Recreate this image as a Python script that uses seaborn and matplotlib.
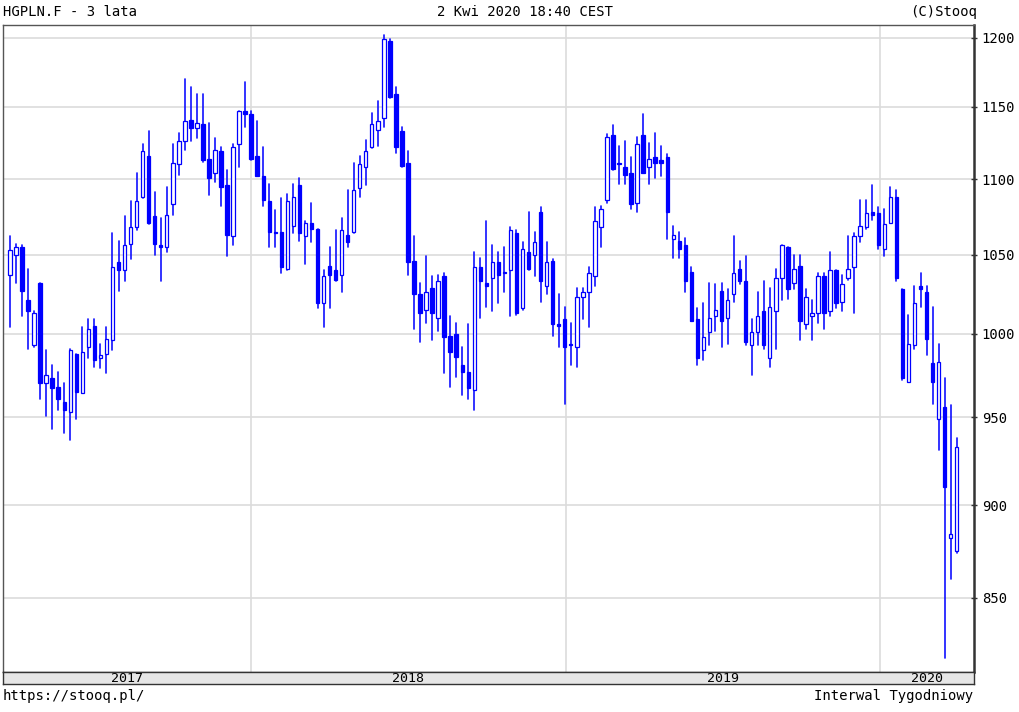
import numpy as np
import pandas as pd
import matplotlib
matplotlib.use("Agg")
import matplotlib.pyplot as plt
import matplotlib.dates as mdates
import matplotlib.ticker as mticker
import seaborn as sns

# ---------------- data (weekly candles, HGPLN.F) ----------------
start_week = "2017-03-27"
opens = [1037, 1050, 1055, 1021, 993, 1032, 970, 973, 968, 959,
         953, 988, 964, 992, 1005, 985, 988, 996, 1045, 1040,
         1057, 1068, 1088, 1116, 1075, 1056, 1055, 1083, 1110, 1126,
         1141, 1135, 1138, 1114, 1104, 1119, 1096, 1062, 1124, 1147,
         1145, 1116, 1102, 1085, 1065, 1065, 1041, 1069, 1096, 1062,
         1071, 1067, 1019, 1043, 1040, 1037, 1063, 1065, 1094, 1108,
         1122, 1134, 1142, 1198, 1159, 1133, 1111, 1046, 1025, 1015,
         1029, 1010, 1036, 999, 1000, 981, 977, 966, 1042, 1032,
         1035, 1045, 1039, 1040, 1064, 1016, 1052, 1050, 1078, 1030,
         1046, 1006, 1009, 994, 992, 1023, 1026, 1036, 1068, 1086,
         1130, 1111, 1108, 1104, 1084, 1130, 1108, 1115, 1113, 1115,
         1060, 1059, 1056, 1039, 1009, 990, 1001, 1011, 1027, 1010,
         1025, 1041, 1033, 993, 1001, 1014, 985, 1014, 1035, 1055,
         1032, 1043, 1006, 1011, 1013, 1036, 1014, 1040, 1020, 1035,
         1042, 1062, 1068, 1078, 1077, 1054, 1071, 1088, 1028, 971,
         993, 1030, 1026, 982, 949, 956, 882, 875]
highs = [1062, 1057, 1056, 1041, 1014, 1032, 990, 981, 977, 970,
         991, 988, 1004, 1009, 1009, 994, 1004, 1064, 1059, 1075,
         1085, 1104, 1124, 1133, 1091, 1074, 1095, 1124, 1132, 1170,
         1164, 1159, 1159, 1139, 1128, 1122, 1106, 1124, 1147, 1168,
         1147, 1140, 1122, 1097, 1079, 1087, 1090, 1097, 1101, 1072,
         1084, 1067, 1040, 1055, 1066, 1074, 1093, 1111, 1116, 1127,
         1146, 1154, 1202, 1199, 1164, 1136, 1119, 1062, 1032, 1049,
         1036, 1037, 1038, 1011, 1007, 992, 1006, 1052, 1048, 1072,
         1056, 1052, 1055, 1068, 1066, 1058, 1078, 1065, 1081, 1058,
         1047, 1025, 1017, 1007, 1029, 1029, 1042, 1081, 1082, 1131,
         1137, 1123, 1126, 1115, 1129, 1145, 1125, 1132, 1123, 1117,
         1069, 1065, 1061, 1042, 1016, 1019, 1032, 1031, 1032, 1028,
         1062, 1046, 1049, 1009, 1026, 1033, 1029, 1041, 1056, 1055,
         1050, 1050, 1028, 1021, 1038, 1038, 1052, 1040, 1037, 1062,
         1064, 1086, 1086, 1096, 1081, 1080, 1095, 1093, 1028, 1012,
         1030, 1038, 1030, 1017, 994, 973, 957, 938]
lows = [1004, 1032, 1011, 991, 992, 961, 951, 943, 954, 941,
        937, 949, 964, 985, 980, 979, 976, 990, 1027, 1033,
        1047, 1066, 1087, 1070, 1050, 1033, 1052, 1076, 1103, 1120,
        1126, 1128, 1112, 1089, 1098, 1082, 1049, 1056, 1108, 1136,
        1113, 1102, 1082, 1055, 1055, 1038, 1040, 1064, 1059, 1044,
        1058, 1016, 1004, 1016, 1033, 1026, 1055, 1064, 1088, 1096,
        1121, 1123, 1136, 1156, 1118, 1108, 1037, 1003, 995, 1007,
        996, 1002, 976, 968, 974, 963, 961, 954, 1010, 1017,
        1014, 1019, 1026, 1011, 1012, 1015, 1040, 1036, 1020, 1025,
        999, 992, 958, 981, 980, 1009, 1004, 1030, 1055, 1084,
        1106, 1097, 1097, 1080, 1078, 1104, 1097, 1101, 1102, 1060,
        1048, 1048, 1026, 1008, 981, 984, 993, 1002, 992, 994,
        1020, 1031, 993, 975, 993, 991, 980, 991, 1021, 1022,
        1028, 996, 1003, 996, 1007, 1003, 1011, 1016, 1014, 1034,
        1013, 1058, 1067, 1073, 1054, 1049, 1071, 1033, 972, 971,
        991, 1017, 987, 958, 931, 819, 860, 874]
closes = [1053, 1055, 1027, 1014, 1013, 970, 975, 967, 961, 954,
          990, 965, 989, 1003, 984, 987, 997, 1042, 1040, 1056,
          1068, 1085, 1119, 1071, 1057, 1055, 1076, 1111, 1126, 1140,
          1135, 1139, 1113, 1101, 1120, 1095, 1063, 1122, 1147, 1145,
          1114, 1102, 1086, 1065, 1064, 1042, 1085, 1088, 1064, 1071,
          1067, 1019, 1036, 1037, 1034, 1066, 1058, 1093, 1110, 1119,
          1138, 1140, 1199, 1157, 1122, 1109, 1045, 1025, 1013, 1026,
          1013, 1033, 998, 989, 986, 977, 967, 1042, 1033, 1030,
          1045, 1037, 1038, 1066, 1013, 1054, 1041, 1058, 1033, 1045,
          1006, 1005, 992, 993, 1023, 1026, 1038, 1072, 1080, 1129,
          1107, 1110, 1103, 1083, 1124, 1104, 1114, 1111, 1111, 1078,
          1063, 1054, 1033, 1008, 985, 998, 1010, 1015, 1008, 1021,
          1038, 1033, 995, 1001, 1011, 993, 1017, 1035, 1056, 1028,
          1041, 1008, 1023, 1013, 1036, 1013, 1040, 1019, 1031, 1041,
          1062, 1069, 1077, 1076, 1056, 1070, 1088, 1035, 973, 994,
          1019, 1028, 997, 971, 983, 910, 884, 933]
y_ticks = [850, 900, 950, 1000, 1050, 1100, 1150, 1200]
years = [2017, 2018, 2019, 2020]

# ---------------- figure ----------------
sns.set_style("white")
plt.rcParams["font.family"] = ["DejaVu Sans Mono", "DejaVu Sans"]

W, H = 1020, 712
fig = plt.figure(figsize=(W / 100, H / 100), dpi=100)
fig.patch.set_facecolor("white")

ax = fig.add_axes([3 / W, (H - 672) / H, 971 / W, (672 - 25) / H])
ax.set_facecolor("white")

n = len(opens)
weeks = pd.date_range(start_week, periods=n, freq="7D")
o = np.array(opens, float)
c = np.array(closes, float)
hi = np.array(highs, float)
lo = np.array(lows, float)

blue = "#0000ff"

# wicks via seaborn (one unit per candle)
wick_df = pd.DataFrame({
    "date": np.repeat(weeks.values, 2),
    "price": np.column_stack([lo, hi]).ravel(),
    "candle": np.repeat(np.arange(n), 2),
})
sns.lineplot(data=wick_df, x="date", y="price", units="candle",
             estimator=None, sort=False, color="#1010ff", lw=1.2,
             ax=ax, legend=False, zorder=2)

# bodies
bottom = np.minimum(o, c)
height = np.maximum(np.abs(c - o), 0.8)
up = c > o
xnum = mdates.date2num(weeks.to_pydatetime())
bw = 4.0  # days
ax.bar(xnum[up], height[up], bottom=bottom[up], width=bw,
       facecolor="white", edgecolor=blue, linewidth=0.9, zorder=3)
ax.bar(xnum[~up], height[~up], bottom=bottom[~up], width=bw,
       facecolor=blue, edgecolor=blue, linewidth=0.9, zorder=3)

# scales
ax.set_yscale("log")
ax.set_ylim(812.1, 1209.5)
ax.yaxis.set_major_locator(mticker.FixedLocator(y_ticks))
ax.yaxis.set_major_formatter(mticker.FixedFormatter([str(t) for t in y_ticks]))
ax.yaxis.set_minor_locator(mticker.NullLocator())
ax.yaxis.tick_right()
ax.tick_params(axis="y", which="major", direction="inout", length=5,
               width=1, color="#333333", pad=3, labelsize=10,
               labelcolor="black")

x0 = mdates.date2num(pd.Timestamp(start_week).to_pydatetime())
xmin, xmax = x0 - 8.1, x0 + 1119.1
ax.set_xlim(xmin, xmax)
year_starts = [mdates.date2num(pd.Timestamp(f"{y}-01-01").to_pydatetime()) for y in years[1:]]
ax.set_xticks(year_starts)
ax.tick_params(axis="x", direction="in", length=4, width=1, color="#333333",
               labelbottom=False)
ax.set_xlabel("")
ax.set_ylabel("")

ax.grid(True, axis="both", color="#dcdcdc", lw=1.2)
ax.set_axisbelow(True)

for side, col, lw in [("left", "#555555", 1.0), ("top", "#555555", 1.0),
                      ("right", "#333333", 1.8), ("bottom", "#333333", 1.0)]:
    ax.spines[side].set_visible(True)
    ax.spines[side].set_color(col)
    ax.spines[side].set_linewidth(lw)

# year band
bx = fig.add_axes([3 / W, (H - 684) / H, 971 / W, 12 / H])
bx.set_facecolor("#e6e6e6")
bx.set_xlim(xmin, xmax)
bx.set_ylim(0, 1)
bx.set_xticks([])
bx.set_yticks([])
for s in bx.spines.values():
    s.set_visible(True)
    s.set_color("#333333")
    s.set_linewidth(1.0)
bounds = [xmin] + year_starts + [xmax]
for i, y in enumerate(years):
    mid = (bounds[i] + bounds[i + 1]) / 2
    bx.text(mid, 0.45, str(y), ha="center", va="center", fontsize=9.5,
            color="black")

# header / footer texts
fig.text(3 / W, 1 - 12 / H, "HGPLN.F - 3 lata", ha="left", va="center",
         fontsize=10, color="black")
fig.text(525 / W, 1 - 12 / H, "2 Kwi 2020 18:40 CEST", ha="center",
         va="center", fontsize=10, color="black")
fig.text(977 / W, 1 - 12 / H, "(C)Stooq", ha="right", va="center",
         fontsize=10, color="black")
fig.text(3 / W, 1 - 696 / H, "https://stooq.pl/", ha="left", va="center",
         fontsize=10, color="black")
fig.text(973 / W, 1 - 696 / H, "Interwal Tygodniowy", ha="right",
         va="center", fontsize=10, color="black")

fig.savefig("out.png", dpi=100, facecolor="white")
